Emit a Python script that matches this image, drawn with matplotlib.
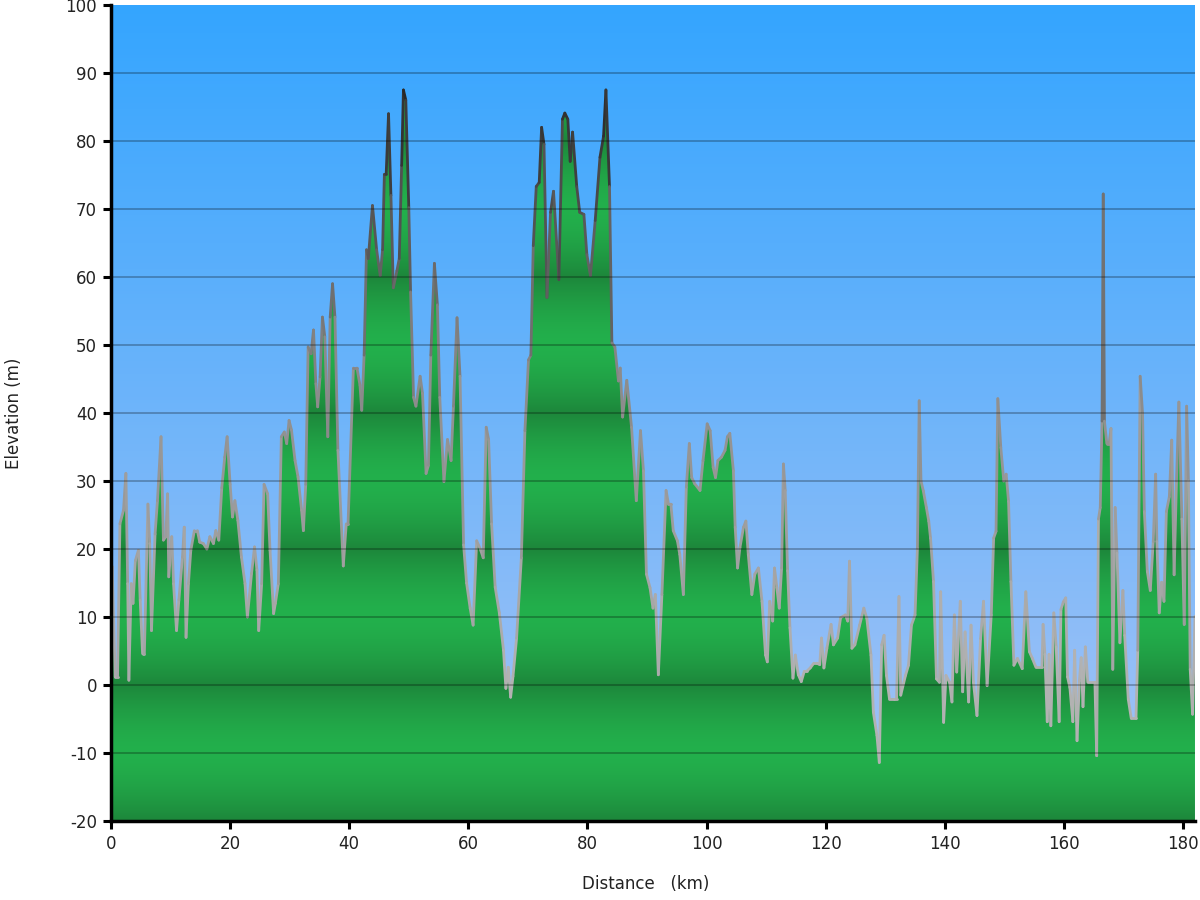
import numpy as np
import matplotlib
matplotlib.use("Agg")
import matplotlib.pyplot as plt
from matplotlib.collections import LineCollection
from matplotlib.colors import LinearSegmentedColormap, Normalize, to_rgb

plt.rcParams["axes.unicode_minus"] = False

# elevation profile (km, m)
distance_km = [
    0.0, 0.2, 0.7, 1.1, 1.5, 2.1, 2.5, 2.8, 3.0, 3.4, 3.7, 4.1, 4.6, 4.9, 5.3, 5.6,
    6.2, 6.5, 6.8, 7.4, 7.8, 8.4, 8.8, 9.2, 9.5, 9.7, 10.2, 10.5, 11.0, 11.4, 12.0,
    12.3, 12.6, 13.0, 13.4, 14.0, 14.5, 14.9, 15.5, 16.1, 16.6, 17.2, 17.6, 18.1,
    18.6, 19.1, 19.5, 20.0, 20.4, 20.8, 21.3, 21.9, 22.5, 22.9, 23.6, 24.1, 24.5,
    24.8, 25.3, 25.7, 26.3, 26.7, 27.3, 27.6, 28.1, 28.6, 29.1, 29.5, 29.9, 30.3,
    30.9, 31.4, 32.0, 32.3, 32.7, 33.1, 33.6, 34.0, 34.4, 34.7, 35.1, 35.5, 35.9,
    36.4, 36.8, 37.2, 37.6, 38.1, 39.0, 39.5, 39.8, 40.7, 41.3, 41.8, 42.1, 42.5,
    42.9, 43.2, 43.9, 44.6, 45.2, 45.6, 45.9, 46.2, 46.6, 47.0, 47.4, 48.0, 48.4,
    48.8, 49.1, 49.5, 50.0, 50.3, 50.8, 51.2, 51.9, 52.3, 52.9, 53.3, 53.7, 54.3,
    54.8, 55.2, 55.9, 56.5, 57.1, 57.5, 58.1, 58.6, 59.2, 59.7, 60.3, 60.8, 61.4,
    62.0, 62.5, 63.0, 63.4, 63.9, 64.5, 65.2, 65.9, 66.3, 66.7, 67.1, 67.5, 68.1,
    68.9, 69.5, 70.1, 70.5, 70.9, 71.4, 71.9, 72.3, 72.7, 73.2, 73.8, 74.3, 75.2,
    75.8, 76.2, 76.7, 77.1, 77.5, 78.2, 78.7, 79.4, 79.9, 80.5, 81.3, 82.1, 82.7,
    83.1, 83.7, 84.1, 84.6, 85.2, 85.5, 85.9, 86.6, 87.4, 88.2, 88.9, 89.4, 89.9,
    90.5, 91.0, 91.4, 91.9, 92.5, 93.2, 93.6, 94.0, 94.4, 95.1, 95.5, 96.1, 96.6,
    97.1, 97.5, 98.0, 98.9, 99.4, 100.1, 100.6, 101.1, 101.5, 101.9, 102.5, 103.1,
    103.5, 103.9, 104.5, 104.8, 105.2, 105.6, 106.2, 106.6, 107.0, 107.6, 108.1,
    108.7, 109.3, 109.9, 110.2, 110.6, 111.1, 111.4, 111.8, 112.2, 112.6, 112.9,
    113.2, 113.6, 114.0, 114.5, 114.9, 115.4, 115.9, 116.4, 116.8, 117.4, 118.0,
    118.5, 119.0, 119.3, 119.7, 120.2, 120.9, 121.3, 122.0, 122.5, 123.3, 123.7,
    124.0, 124.4, 124.9, 125.7, 126.4, 126.9, 127.6, 128.0, 128.6, 129.0, 129.4,
    129.8, 130.2, 130.7, 131.4, 131.9, 132.3, 132.6, 133.4, 133.9, 134.4, 135.0,
    135.4, 135.7, 136.0, 136.4, 136.9, 137.3, 137.6, 138.1, 138.6, 139.1, 139.3,
    139.8, 140.2, 140.8, 141.2, 141.6, 142.0, 142.6, 143.0, 143.4, 144.0, 144.4,
    144.8, 145.4, 146.0, 146.5, 147.1, 147.8, 148.2, 148.6, 148.9, 149.4, 149.9,
    150.3, 150.7, 151.1, 151.6, 152.2, 153.0, 153.6, 154.2, 154.7, 155.3, 156.3,
    156.5, 156.8, 157.2, 157.5, 157.8, 158.3, 158.7, 159.2, 159.5, 159.9, 160.3,
    160.6, 161.0, 161.5, 161.8, 162.2, 162.6, 162.9, 163.2, 163.6, 164.0, 165.2,
    165.5, 165.8, 166.1, 166.4, 166.6, 166.8, 167.2, 167.6, 167.9, 168.2, 168.6,
    168.9, 169.4, 169.9, 170.2, 170.8, 171.3, 172.1, 172.4, 172.8, 173.2, 173.5,
    174.0, 174.5, 175.0, 175.4, 175.6, 176.0, 176.4, 176.8, 177.2, 177.7, 178.1,
    178.5, 178.9, 179.3, 179.8, 180.2, 180.6, 180.9, 181.2, 181.6, 182.0,
]
elevation_m = [
    14.0, 17.4, 1.2, 1.2, 23.7, 25.7, 31.1, 14.9, 0.7, 14.9, 12.0, 18.3, 19.8, 12.5, 4.6, 4.6,
    26.6, 20.8, 8.0, 22.2, 27.1, 36.5, 21.3, 21.8, 28.1, 15.9, 21.8, 14.9, 8.0, 12.5, 18.8,
    23.2, 7.0, 14.9, 19.8, 22.7, 22.7, 21.0, 20.8, 20.0, 21.8, 20.8, 22.7, 21.3,
    29.0, 33.5, 36.5, 29.5, 24.7, 27.1, 24.2, 18.8, 14.9, 10.0, 16.4, 20.3, 16.9,
    8.0, 14.9, 29.5, 28.1, 19.8, 10.5, 12.0, 14.9, 36.5, 37.2, 35.5, 38.9, 37.5,
    33.0, 30.6, 25.7, 22.7, 29.5, 49.7, 48.7, 52.2, 44.3, 40.9, 45.3, 54.1, 51.2,
    36.5, 54.1, 59.0, 54.1, 34.5, 17.5, 23.7, 23.7, 46.6, 46.6, 44.1, 40.4, 48.5,
    64.0, 62.7, 70.5, 64.0, 60.2, 64.0, 75.1, 75.1, 84.0, 72.0, 58.4, 60.9, 62.7,
    76.4, 87.5, 86.0, 70.2, 57.8, 42.3, 41.0, 45.4, 42.9, 31.1, 32.3, 48.5, 62.0,
    55.9, 42.3, 29.9, 36.1, 33.0, 41.0, 54.0, 45.4, 20.6, 15.0, 11.3, 8.8, 21.2,
    20.0, 18.7, 37.9, 36.1, 23.7, 14.4, 10.6, 5.1, -0.5, 2.6, -1.8, 1.3, 6.9,
    18.7, 37.4, 47.8, 48.5, 64.6, 73.3, 73.9, 82.0, 79.5, 57.0, 69.5, 72.6, 59.6,
    83.2, 84.1, 83.2, 77.0, 81.3, 73.3, 69.5, 69.2, 63.3, 60.2, 68.3, 77.6, 80.7,
    87.5, 73.3, 50.3, 49.7, 44.7, 46.6, 39.4, 44.8, 37.9, 27.1, 37.4, 31.5, 16.3,
    14.3, 11.3, 13.3, 1.5, 13.3, 28.6, 26.6, 26.6, 22.7, 21.2, 19.2, 13.3, 29.1,
    35.5, 30.5, 29.6, 28.6, 33.0, 38.4, 37.4, 32.0, 30.5, 33.0, 33.5, 34.5,
    36.5, 37.0, 31.5, 23.2, 17.2, 20.2, 23.2, 24.1, 19.2, 13.3, 16.3,
    17.2, 12.3, 4.4, 3.4, 12.3, 9.4, 17.2, 14.3, 11.3, 17.2, 32.5,
    28.6, 16.8, 8.4, 1.0, 4.4, 1.5, 0.5, 2.0, 2.0, 2.5, 3.2,
    3.2, 3.0, 6.9, 2.5, 5.4, 8.9, 5.9, 6.9, 9.9, 10.3, 9.4,
    18.2, 5.4, 5.9, 8.8, 11.3, 9.8, 4.4, -4.0, -7.4, -11.4, 5.9,
    7.3, 1.4, -2.0, -2.0, -2.0, 13.0, -1.5, 1.4, 2.9, 8.8, 10.3,
    20.1, 41.8, 30.0, 28.5, 26.1, 24.1, 21.6, 15.2, 0.9, 0.4, 13.7,
    -5.5, 1.4, 0.4, -2.5, 10.3, 1.9, 12.3, -1.0, 7.8, -2.5, 8.8,
    0.4, -4.5, 6.8, 12.3, -0.1, 10.3, 21.6, 22.6, 42.1, 34.9, 30.0,
    31.0, 27.0, 15.2, 2.9, 3.9, 2.4, 13.7, 4.9, 3.9, 2.6, 2.6,
    8.9, 4.5, -5.4, 4.5, -6.0, 10.6, 5.6, -5.4, 11.1, 12.2, 12.8,
    1.2, -0.4, -5.4, 5.1, -8.2, 0.6, 4.0, -3.2, 5.6, 0.4, 0.4,
    -10.4, 24.4, 26.1, 38.8, 72.2, 38.8, 35.5, 35.5, 37.7, 2.3, 26.1,
    19.4, 6.2, 13.9, 7.3, -2.1, -4.9, -4.9, 5.1, 45.4, 39.9, 25.5,
    16.7, 13.9, 21.1, 31.0, 21.1, 10.6, 15.1, 12.3, 25.5, 27.7, 36.0,
    16.2, 30.0, 41.6, 24.4, 8.9, 41.0, 30.0, 2.3, -4.3, 10.1,
]

x_ticks = list(range(0, 181, 20))
y_ticks = list(range(-20, 101, 10))

dist = np.array(distance_km)
elev = np.array(elevation_m)
x0, x1 = 0, 182.0
y0, y1 = -20, 100

fig = plt.figure(figsize=(12, 9), dpi=100, facecolor="white")
ax = fig.add_axes([0.0925, 0.0878, 0.9033, 0.9067])
ax.set_xlim(x0, x1)
ax.set_ylim(y0, y1)

# sky gradient
sky = LinearSegmentedColormap.from_list("sky", ["#a9c4f5", "#34a5ff"])
ax.imshow(np.linspace(0, 1, 256).reshape(-1, 1), extent=[x0, x1, y0, y1],
          origin="lower", aspect="auto", cmap=sky, zorder=0)

# ground: banded green gradient clipped to the profile
poly = ax.fill_between(dist, elev, y0, facecolor="none", edgecolor="none", zorder=1)
ys = np.linspace(y0, y1, 800)
band = np.abs(((ys / 20.0) % 1.0) - 0.5) * 2
dark = np.array(to_rgb("#1d873b"))
light = np.array(to_rgb("#23b04c"))
rgb = light + (dark - light)[None, :] * (band ** 1.6)[:, None]
img = ax.imshow(rgb[:, None, :], extent=[x0, x1, y0, y1], origin="lower",
                aspect="auto", zorder=1, interpolation="bilinear")
img.set_clip_path(poly.get_paths()[0], transform=ax.transData)

# outline, lighter grey low down, near black on the peaks
pts = np.column_stack([dist, elev])
segs = np.stack([pts[:-1], pts[1:]], axis=1)
line_cmap = LinearSegmentedColormap.from_list("edge", ["#b2b2b2", "#8a8a8a", "#222222"])
lc = LineCollection(segs, cmap=line_cmap, norm=Normalize(0, 90), linewidths=2.0,
                    zorder=2, capstyle="round", joinstyle="round")
lc.set_array((elev[:-1] + elev[1:]) / 2)
ax.add_collection(lc)

for y in y_ticks[1:-1]:
    ax.axhline(y, color="black", alpha=0.26, lw=1.4, zorder=3)

for side in ["top", "right"]:
    ax.spines[side].set_visible(False)
for side in ["left", "bottom"]:
    ax.spines[side].set_linewidth(2.5)
    ax.spines[side].set_zorder(5)

ax.set_xticks(x_ticks)
ax.set_yticks(y_ticks)
ax.tick_params(direction="out", length=6, width=2.2, labelsize=12,
               labelcolor="#222222", pad=4)
ax.set_xlabel("Distance   (km)", fontsize=12, color="#222222")
ax.set_ylabel("Elevation (m)", fontsize=12, color="#222222")
ax.xaxis.set_label_coords(0.493, -0.066)
ax.yaxis.set_label_coords(-0.081, 0.5)

fig.savefig("out.png", dpi=100, facecolor="white")
